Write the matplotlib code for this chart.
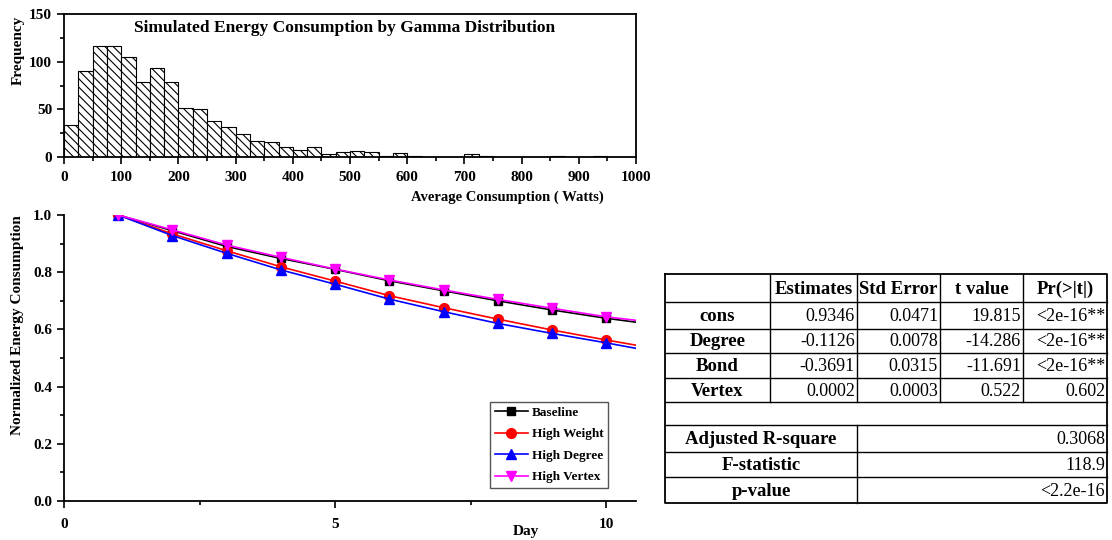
import matplotlib
matplotlib.use("Agg")
import matplotlib.pyplot as plt
from matplotlib.ticker import MultipleLocator, FormatStrFormatter
import numpy as np

plt.rcParams['font.family'] = ['Liberation Serif', 'DejaVu Serif']
plt.rcParams['hatch.linewidth'] = 0.8

# ---------------- data ----------------
hist_bin_left = list(range(0, 1000, 25))
hist_counts = [34, 90, 116, 116, 105, 79, 93, 79, 51, 50,
               38, 31, 24, 17, 16, 11, 7, 11, 3, 5,
               6, 5, 1, 4, 1, 0, 0, 0, 3, 1,
               0, 0, 0, 0, 1, 0, 0, 1, 0, 0]
hist_title = "Simulated Energy Consumption by Gamma Distribution"
hist_xlabel = "Average Consumption ( Watts)"
hist_ylabel = "Frequency"

days = [1, 2, 3, 4, 5, 6, 7, 8, 9, 10, 11]
baseline = [1.0, 0.945, 0.890, 0.848, 0.810, 0.770, 0.735, 0.700, 0.668, 0.639, 0.614]
high_weight = [1.0, 0.934, 0.875, 0.819, 0.769, 0.718, 0.676, 0.636, 0.598, 0.563, 0.530]
high_degree = [1.0, 0.928, 0.866, 0.808, 0.758, 0.706, 0.662, 0.621, 0.586, 0.553, 0.518]
high_vertex = [1.0, 0.948, 0.895, 0.852, 0.811, 0.773, 0.738, 0.705, 0.674, 0.644, 0.622]
series_names = ["Baseline", "High Weight", "High Degree", "High Vertex"]

tbl_header = ["", "Estimates", "Std Error", "t value", "Pr(>|t|)"]
tbl_rows = ["cons", "Degree", "Bond", "Vertex"]
tbl_estimates = ["0.9346", "-0.1126", "-0.3691", "0.0002"]
tbl_stderr = ["0.0471", "0.0078", "0.0315", "0.0003"]
tbl_tvalue = ["19.815", "-14.286", "-11.691", "0.522"]
tbl_pvalue = ["<2e-16**", "<2e-16**", "<2e-16**", "0.602"]
tbl_sum_labels = ["Adjusted R-square", "F-statistic", "p-value"]
tbl_sum_values = ["0.3068", "118.9", "<2.2e-16"]

# ---------------- figure ----------------
W, H = 1112, 540
fig = plt.figure(figsize=(W / 100, H / 100), dpi=100)

def px_axes(x0, y0, x1, y1):
    return fig.add_axes([x0 / W, 1 - y1 / H, (x1 - x0) / W, (y1 - y0) / H])

def style_ticklabels(ax):
    for lab in ax.get_xticklabels() + ax.get_yticklabels():
        lab.set_fontweight('bold')

# ---- histogram ----
ax1 = px_axes(64, 14, 636, 157)
ax1.bar(hist_bin_left, hist_counts, width=25, align='edge', color='white',
        edgecolor='black', hatch='\\\\\\\\', linewidth=0.8)
ax1.set_xlim(0, 1000)
ax1.set_ylim(0, 150)
ax1.xaxis.set_major_locator(MultipleLocator(100))
ax1.xaxis.set_minor_locator(MultipleLocator(50))
ax1.yaxis.set_major_locator(MultipleLocator(50))
ax1.yaxis.set_minor_locator(MultipleLocator(25))
ax1.tick_params(which='both', direction='out', top=False, right=False, width=1.2)
ax1.tick_params(which='major', length=5, labelsize=11)
ax1.tick_params(axis='x', which='major', pad=5)
ax1.tick_params(which='minor', length=3)
for s in ax1.spines.values():
    s.set_linewidth(1.3)
ax1.text(0.49, 0.90, hist_title, transform=ax1.transAxes, ha='center',
         va='center', fontsize=12.5, fontweight='bold')
ax1.set_xlabel(hist_xlabel, fontsize=10.5, fontweight='bold', va='center')
ax1.xaxis.set_label_coords(0.776, -0.28)
ax1.set_ylabel(hist_ylabel, fontsize=11, fontweight='bold', va='center')
ax1.yaxis.set_label_coords(-0.080, 0.748)
style_ticklabels(ax1)

# ---- line chart ----
ax2 = px_axes(64, 215, 636, 501)
ax2.plot(days, baseline, color='black', marker='s', markersize=6, lw=1.2,
         label=series_names[0])
ax2.plot(days, high_weight, color='red', marker='o', markersize=7, lw=1.2,
         label=series_names[1])
ax2.plot(days, high_degree, color='blue', marker='^', markersize=7.5, lw=1.2,
         label=series_names[2])
ax2.plot(days, high_vertex, color='magenta', marker='v', markersize=7.5, lw=1.2,
         label=series_names[3])
ax2.set_xlim(0, 10.55)
ax2.set_ylim(0, 1.0)
ax2.spines['top'].set_visible(False)
ax2.spines['right'].set_visible(False)
for s in ('left', 'bottom'):
    ax2.spines[s].set_linewidth(1.3)
ax2.xaxis.set_major_locator(MultipleLocator(5))
ax2.xaxis.set_minor_locator(MultipleLocator(2.5))
ax2.yaxis.set_major_locator(MultipleLocator(0.2))
ax2.yaxis.set_minor_locator(MultipleLocator(0.1))
ax2.yaxis.set_major_formatter(FormatStrFormatter('%.1f'))
ax2.tick_params(which='both', direction='out', width=1.2)
ax2.tick_params(which='major', length=5, labelsize=11)
ax2.tick_params(axis='x', which='major', pad=7)
ax2.tick_params(which='minor', length=3)
ax2.set_ylabel("Normalized Energy Consumption", fontsize=11, fontweight='bold',
               va='center')
ax2.yaxis.set_label_coords(-0.082, 0.615)
ax2.set_xlabel("Day", fontsize=11, fontweight='bold', va='center')
ax2.xaxis.set_label_coords(0.808, -0.105)
style_ticklabels(ax2)
leg = ax2.legend(loc='upper left', bbox_to_anchor=(0.745, 0.346),
                 prop=dict(size=9.5, weight='bold'), fancybox=False,
                 edgecolor='#555555', framealpha=1, handlelength=2.5,
                 handletextpad=0.3, labelspacing=0.7, borderpad=0.35,
                 borderaxespad=0)
leg.get_frame().set_linewidth(1.0)

# ---- regression table ----
axt = fig.add_axes([0, 0, 1, 1])
axt.set_xlim(0, W)
axt.set_ylim(H, 0)
axt.axis('off')

col_x = [665, 770, 857, 940, 1023, 1107]
row_y = [274, 302, 329, 353, 378, 402, 425, 452, 477, 503]
lw = 1.0
axt.plot([col_x[0], col_x[-1], col_x[-1], col_x[0], col_x[0]],
         [row_y[0], row_y[0], row_y[-1], row_y[-1], row_y[0]], color='black', lw=1.3)
for y in row_y[1:-1]:
    axt.plot([col_x[0], col_x[-1]], [y, y], color='black', lw=lw)
for x in col_x[1:-1]:
    axt.plot([x, x], [row_y[0], row_y[5]], color='black', lw=lw)
axt.plot([col_x[2], col_x[2]], [row_y[6], row_y[-1]], color='black', lw=lw)

def cy(i):
    return (row_y[i] + row_y[i + 1]) / 2 + 1

for j, h in enumerate(tbl_header):
    if h:
        axt.text((col_x[j] + col_x[j + 1]) / 2, cy(0), h, ha='center',
                 va='center', fontsize=13.5, fontweight='bold')
cols_vals = [tbl_estimates, tbl_stderr, tbl_tvalue, tbl_pvalue]
for i, name in enumerate(tbl_rows):
    axt.text((col_x[0] + col_x[1]) / 2, cy(i + 1), name, ha='center',
             va='center', fontsize=13.5, fontweight='bold')
    for j, vals in enumerate(cols_vals):
        axt.text(col_x[j + 2] - 2, cy(i + 1), vals[i], ha='right',
                 va='center', fontsize=13)
for k, (lab, val) in enumerate(zip(tbl_sum_labels, tbl_sum_values)):
    axt.text((col_x[0] + col_x[2]) / 2, cy(6 + k), lab, ha='center',
             va='center', fontsize=13.5, fontweight='bold')
    axt.text(col_x[-1] - 2, cy(6 + k), val, ha='right', va='center', fontsize=13)

fig.savefig("out.png", dpi=100)
